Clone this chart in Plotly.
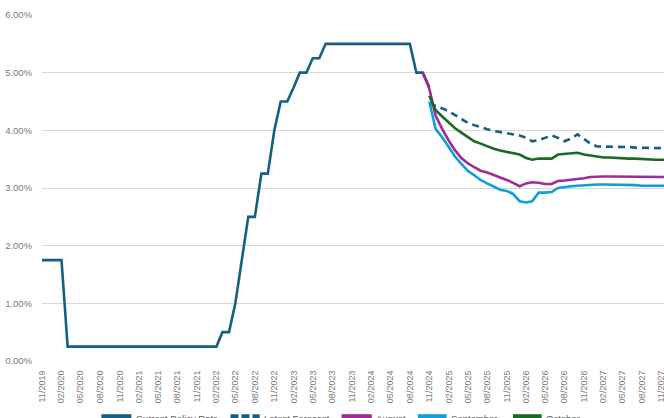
import pandas as pd
import plotly.graph_objects as go

# ---------------- data ----------------
policy_start = "2019-11-01"
policy_rate = [1.75, 1.75, 1.75, 1.75, 0.25, 0.25, 0.25, 0.25, 0.25, 0.25,
               0.25, 0.25, 0.25, 0.25, 0.25, 0.25, 0.25, 0.25, 0.25, 0.25,
               0.25, 0.25, 0.25, 0.25, 0.25, 0.25, 0.25, 0.25, 0.50, 0.50,
               1.00, 1.75, 2.50, 2.50, 3.25, 3.25, 4.00, 4.50, 4.50, 4.75,
               5.00, 5.00, 5.25, 5.25, 5.50, 5.50, 5.50, 5.50, 5.50, 5.50,
               5.50, 5.50, 5.50, 5.50, 5.50, 5.50, 5.50, 5.50, 5.00, 5.00,
               4.75]

forecast_start = "2024-11-01"
latest_forecast = [4.47, 4.43, 4.38, 4.33, 4.27, 4.20, 4.13, 4.09, 4.05, 4.02,
                   3.99, 3.97, 3.94, 3.92, 3.91, 3.87, 3.81, 3.83, 3.87, 3.91,
                   3.87, 3.81, 3.86, 3.93, 3.85, 3.77, 3.72, 3.72, 3.72, 3.71,
                   3.71, 3.71, 3.70, 3.70, 3.70, 3.69, 3.69, 3.69]

august_start = "2024-10-01"
august = [5.00,
          4.72, 4.25, 4.02, 3.82, 3.66, 3.52, 3.43, 3.36, 3.30, 3.27,
          3.23, 3.19, 3.14, 3.09, 3.03, 3.08, 3.10, 3.09, 3.07, 3.07,
          3.12, 3.13, 3.14, 3.16, 3.17, 3.19, 3.20, 3.20, 3.20, 3.20,
          3.20, 3.19, 3.19, 3.19, 3.19, 3.19, 3.19, 3.19]

september = [4.50, 4.02, 3.88, 3.70, 3.55, 3.42, 3.30, 3.22, 3.14, 3.08,
             3.02, 2.97, 2.95, 2.90, 2.77, 2.75, 2.77, 2.92, 2.92, 2.93,
             3.00, 3.02, 3.03, 3.04, 3.05, 3.06, 3.06, 3.06, 3.06, 3.05,
             3.05, 3.05, 3.05, 3.04, 3.04, 3.04, 3.04, 3.04]

october = [4.60, 4.35, 4.24, 4.13, 4.04, 3.96, 3.88, 3.81, 3.77, 3.72,
           3.68, 3.65, 3.63, 3.60, 3.58, 3.52, 3.49, 3.51, 3.51, 3.51,
           3.58, 3.59, 3.60, 3.61, 3.58, 3.56, 3.54, 3.53, 3.53, 3.52,
           3.52, 3.51, 3.51, 3.50, 3.50, 3.49, 3.49, 3.49]

y_ticks = [0, 1, 2, 3, 4, 5, 6]

# ---------------- styles ----------------
C_POLICY = "#156082"
C_AUG = "#A02B93"
C_SEP = "#0F9ED5"
C_OCT = "#196B24"
TXT = "#7a7a7a"
FONT = "Liberation Sans, Arial, sans-serif"


def months(start, n):
    return pd.date_range(start, periods=n, freq="MS")


series = [
    ("Current Policy Rate", months(policy_start, len(policy_rate)), policy_rate, C_POLICY, "solid"),
    ("Latest Forecast", months(forecast_start, len(latest_forecast)), latest_forecast, C_POLICY, "7px,5px"),
    ("August", months(august_start, len(august)), august, C_AUG, "solid"),
    ("September", months(forecast_start, len(september)), september, C_SEP, "solid"),
    ("October", months(forecast_start, len(october)), october, C_OCT, "solid"),
]

fig = go.Figure()
for name, x, y, col, dash in series:
    fig.add_trace(go.Scatter(x=x, y=y, name=name, mode="lines",
                             line=dict(color=col, width=2.6, dash=dash),
                             showlegend=False))

# manual legend (the original is cropped at the bottom edge)
legend_items = [
    ("Current Policy Rate", C_POLICY, "solid", 0.0955, 0.1437),
    ("Latest Forecast", C_POLICY, "8px,3px", 0.303, 0.350),
    ("August", C_AUG, "solid", 0.4816, 0.5303),
    ("September", C_SEP, "solid", 0.6043, 0.6505),
    ("October", C_OCT, "solid", 0.7571, 0.8033),
]
ly = -0.161
for name, col, dash, x0, x1 in legend_items:
    fig.add_shape(type="line", xref="paper", yref="paper", x0=x0, x1=x1, y0=ly, y1=ly,
                  line=dict(color=col, width=5, dash=dash))
    fig.add_annotation(xref="paper", yref="paper", x=x1 + 0.004, y=ly - 0.006,
                       xanchor="left", yanchor="middle", showarrow=False,
                       text=name, font=dict(family=FONT, size=9.5, color="#595959"))

fig.update_layout(
    width=664, height=418,
    margin=dict(l=42, r=0, t=15, b=57),
    paper_bgcolor="white", plot_bgcolor="white",
    font=dict(family=FONT, color=TXT),
    showlegend=False,
)
fig.update_xaxes(
    type="date", range=["2019-11-01", "2027-11-13"],
    tickformat="%m/%Y", dtick="M3", tick0="2019-11-01",
    tickangle=-90, showgrid=False, zeroline=False, showline=False,
    ticks="outside", ticklen=5, tickcolor="rgba(0,0,0,0)",
    ticklabeloverflow="allow",
    tickfont=dict(family=FONT, size=9, color=TXT), automargin=False,
)
fig.update_yaxes(
    range=[0, 6], tickvals=y_ticks, ticktext=[f"{v:.2f}%" for v in y_ticks],
    showgrid=True, gridcolor="#D9D9D9", gridwidth=1, zeroline=False, showline=False,
    ticks="outside", ticklen=7, tickcolor="rgba(0,0,0,0)",
    tickfont=dict(family=FONT, size=9.5, color=TXT), automargin=False,
)

fig.write_html(
    "out.html",
    config={"displayModeBar": False},
    post_script="document.body.style.margin='0';document.body.style.overflow='hidden';",
)
